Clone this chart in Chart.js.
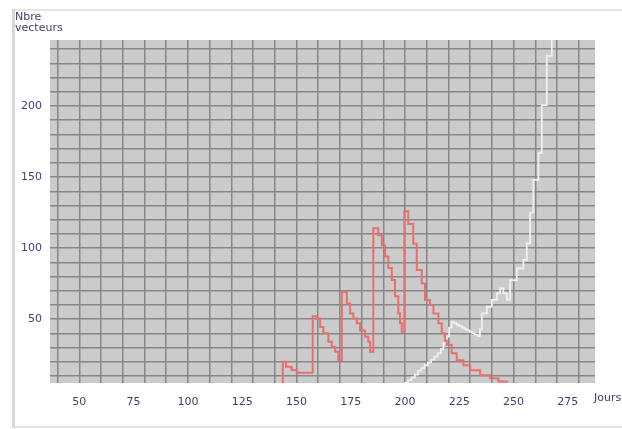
<!DOCTYPE html>
<html><head><meta charset="utf-8">
<script src="https://cdn.jsdelivr.net/npm/chart.js@4.4.0/dist/chart.umd.min.js"></script>
<style>html,body{margin:0;padding:0;background:#fff;overflow:hidden}</style>
</head><body>
<canvas id="c" width="622" height="429"></canvas>
<script>
// ---- data ----
const xLabelTicks = [50, 75, 100, 125, 150, 175, 200, 225, 250, 275];
const xGridTicks = [40, 50, 60, 70, 80, 90, 100, 110, 120, 130, 140, 150, 160, 170, 180, 190, 200, 210, 220, 230, 240, 250, 260, 270, 280];
const yGridTicks = [10, 20, 30, 40, 50, 60, 70, 80, 90, 100, 110, 120, 130, 140, 150, 160, 170, 180, 190, 200, 210, 220, 230, 240];
const yLabelTicks = [50, 100, 150, 200];

const redDays = [143.7, 143.7, 145.2, 147.8, 150.1, 157.5, 159.3, 160.9, 162.4, 164.7, 166.3, 167.8, 169.3,
  170.9, 173.2, 174.7, 176.2, 177.8, 179.3, 181.6, 183.1, 183.9,
  185.4, 187.7, 189.3, 190.8, 192.3, 193.9, 195.4, 196.9, 197.7, 198.5,
  199.7, 201.5, 203.8, 205.4, 207.7, 209.2, 211.5, 213.1, 215.4, 216.9, 218.4, 219.2, 221.5, 223.8, 226.9, 230, 234.6, 239.2, 243, 247.6];
const redValues = [0, 20, 16.5, 14.2, 12.3, 52, 50.5, 44.5, 40, 34, 30.5, 27, 21,
  69, 61, 54, 50.5, 47, 42, 37.5, 34, 27,
  114, 109, 102, 94, 86, 77.5, 66, 54, 47, 41,
  126, 117, 103, 84.5, 75, 63.5, 60, 54, 47, 40, 35, 32, 26, 21, 17.5, 14, 10.5, 8.3, 6, 6];

const whiteDays = [198.5, 200, 201.5, 203, 204.5, 206, 207.5, 209, 210.5, 212, 213.5, 215, 216.5, 217.7, 219.2, 220.3, 221.5,
  222.7, 223.8, 225, 226.2, 227.4, 228.6, 229.8, 231, 232.2, 233.5,
  234.5, 235.4, 237.7, 240, 242.3, 243.8, 245.3, 246.9, 248.4, 251.5, 254.5, 256.1, 257.6, 259.1, 261.4, 263, 265.3, 267.6];
const whiteValues = [3, 5, 7, 9, 11, 13.5, 15.5, 17.5, 19.5, 21.5, 23.5, 25.9, 29, 33, 37.6, 44, 48,
  47, 46, 45, 44, 43, 42, 41, 40, 39, 38,
  43, 54, 58.7, 63.5, 68.2, 71.7, 68.2, 63.5, 77.5, 85.8, 91.6, 103.3, 125, 148, 166.8, 200.7, 235.3, 262];

const TEXT = '#40406f';
const FONT = 'DejaVu Sans';

const decor = {
  id: 'decor',
  beforeDraw(chart) {
    const c = chart.ctx, a = chart.chartArea;
    c.save();
    c.fillStyle = '#ffffff';
    c.fillRect(0, 0, chart.width, chart.height);
    // outer frame
    c.fillStyle = '#e4e4e4';
    c.fillRect(12, 9, chart.width - 12, 2);
    c.fillRect(12, 426, chart.width - 12, 2);
    c.fillStyle = '#d8d8d8';
    c.fillRect(12, 9, 3, 419);
    // plot background
    c.fillStyle = '#cbcbcb';
    c.fillRect(a.left, a.top, a.right - a.left, a.bottom - a.top);
    c.restore();
  },
  afterDraw(chart) {
    const c = chart.ctx;
    c.save();
    c.fillStyle = TEXT;
    c.font = '11px "' + FONT + '"';
    c.textAlign = 'left';
    c.textBaseline = 'middle';
    c.fillText('Nbre', 15, 17);
    c.fillText('vecteurs', 15, 28);
    c.fillText('Jours', 594, 398);
    c.restore();
  }
};

new Chart(document.getElementById('c'), {
  type: 'line',
  data: {
    datasets: [
      {
        data: redDays.map((d, i) => ({ x: d, y: redValues[i] })),
        stepped: true,
        borderColor: '#e96e6e',
        borderWidth: 2,
        pointRadius: 0,
        fill: false,
        xAxisID: 'x', yAxisID: 'y'
      },
      {
        data: whiteDays.map((d, i) => ({ x: d, y: whiteValues[i] })),
        stepped: true,
        borderColor: '#f0f0f0',
        borderWidth: 1.8,
        pointRadius: 0,
        fill: false,
        xAxisID: 'x', yAxisID: 'y'
      }
    ]
  },
  options: {
    responsive: false,
    devicePixelRatio: 1,
    animation: false,
    events: [],
    layout: { padding: { top: 40, right: 27, left: 0, bottom: 0 } },
    plugins: { legend: { display: false }, tooltip: { enabled: false } },
    scales: {
      x: {
        type: 'linear', position: 'bottom', min: 36.5, max: 287.5,
        grid: { display: false },
        border: { display: false },
        ticks: { color: TEXT, font: { family: FONT, size: 11 }, padding: 5, maxRotation: 0, autoSkip: false },
        afterBuildTicks: s => { s.ticks = xLabelTicks.map(v => ({ value: v })); },
        afterFit: s => { s.height = 46; }
      },
      xg: {
        type: 'linear', position: 'bottom', min: 36.5, max: 287.5,
        grid: { color: '#878787', lineWidth: 1.5, drawTicks: false },
        border: { display: false },
        ticks: { display: false, autoSkip: false },
        afterBuildTicks: s => { s.ticks = xGridTicks.map(v => ({ value: v })); },
        afterFit: s => { s.height = 0; }
      },
      y: {
        type: 'linear', min: 5, max: 246.5,
        grid: { color: '#878787', lineWidth: 1.5, drawTicks: false },
        border: { display: false },
        ticks: {
          color: TEXT, font: { family: FONT, size: 11 }, padding: 8, autoSkip: false,
          callback: v => (yLabelTicks.includes(v) ? String(v) : '')
        },
        afterBuildTicks: s => { s.ticks = yGridTicks.map(v => ({ value: v })); },
        afterFit: s => { s.width = 50; }
      }
    }
  },
  plugins: [decor]
});
</script>
</body></html>
